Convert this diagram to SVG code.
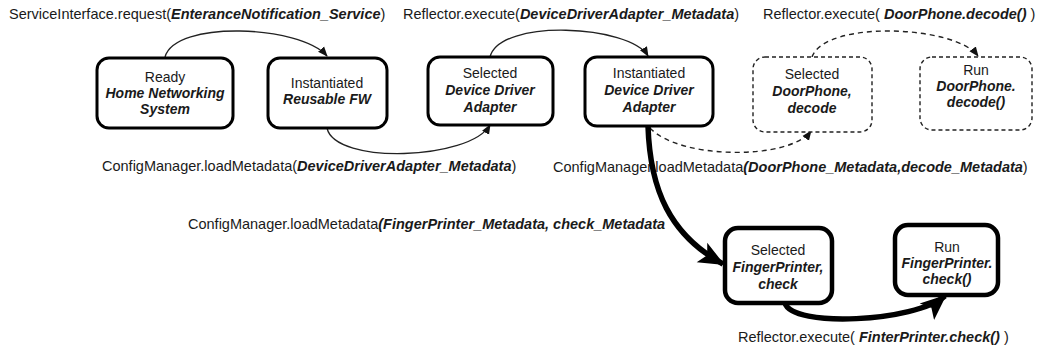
<svg xmlns="http://www.w3.org/2000/svg" width="1041" height="355" viewBox="0 0 1041 355">
<style>
text{font-family:"Liberation Sans",Arial,sans-serif;fill:#1a1a1a}
.lbl{font-size:14.5px}
.nt{font-size:14px;text-anchor:middle}
.b{font-weight:bold;font-style:italic}
.box{fill:#fff;stroke:#000;stroke-width:3}
.boxT{fill:#fff;stroke:#000;stroke-width:4.5}
.boxD{fill:#fff;stroke:#222;stroke-width:1.4;stroke-dasharray:4 3}
.thin{fill:none;stroke:#222;stroke-width:1.3}
.dash{fill:none;stroke:#222;stroke-width:1.4;stroke-dasharray:5 4}
.thick{fill:none;stroke:#000;stroke-width:5.5}
</style>
<defs>
<marker id="ah" markerWidth="10" markerHeight="10" refX="9" refY="5" orient="auto" markerUnits="userSpaceOnUse">
<path d="M0,1 L10,5 L0,9 Z" fill="#111"/>
</marker>
<marker id="ahB" markerWidth="26" markerHeight="26" refX="24" refY="13" orient="auto" markerUnits="userSpaceOnUse">
<path d="M0,2 L26,13 L0,24 L6,13 Z" fill="#000"/>
</marker>
</defs>

<g id="labels">
<text class="lbl" x="9" y="19">ServiceInterface.request(<tspan class="b">EnteranceNotification_Service</tspan>)</text>
<text class="lbl" x="403" y="19">Reflector.execute(<tspan class="b">DeviceDriverAdapter_Metadata</tspan>)</text>
<text class="lbl" x="763" y="19">Reflector.execute( <tspan class="b">DoorPhone.decode()</tspan> )</text>
<text class="lbl" x="102" y="171">ConfigManager.loadMetadata(<tspan class="b">DeviceDriverAdapter_Metadata</tspan>)</text>
<text class="lbl" x="553" y="172">ConfigManager.loadMetadata<tspan class="b">(DoorPhone_Metadata,decode_Metadata</tspan>)</text>
<text class="lbl" x="188" y="229">ConfigManager.loadMetadata<tspan class="b">(FingerPrinter_Metadata,  check_Metadata</tspan></text>
<text class="lbl" x="738" y="342">Reflector.execute( <tspan class="b">FinterPrinter.check()</tspan> )</text>
</g>

<g id="connectors">
<path class="thin" d="M165,57 C175,20 300,25 327,56" marker-end="url(#ah)"/>
<path class="thin" d="M327,128 C335,165 470,160 490,125" marker-end="url(#ah)"/>
<path class="thin" d="M490,57 C500,18 630,25 648,56" marker-end="url(#ah)"/>
<path class="dash" d="M650,128 C680,160 790,160 811,131" marker-end="url(#ah)"/>
<path class="dash" d="M812,57 C825,20 955,25 978,56" marker-end="url(#ah)"/>
</g>

<g id="n1"><rect class="box" x="97" y="58" width="136" height="70" rx="12"/>
<text class="nt" x="165" y="82">Ready</text><text class="nt b" x="165" y="98">Home Networking</text><text class="nt b" x="165" y="114">System</text></g>
<g id="n2"><rect class="box" x="268" y="58" width="119" height="70" rx="12"/>
<text class="nt" x="327" y="88">Instantiated</text><text class="nt b" x="327" y="104">Reusable FW</text></g>
<g id="n3"><rect class="box" x="428" y="57" width="125" height="68" rx="12"/>
<text class="nt" x="490" y="78">Selected</text><text class="nt b" x="490" y="95">Device Driver</text><text class="nt b" x="490" y="112">Adapter</text></g>
<g id="n4"><rect class="box" x="585" y="57" width="128" height="69" rx="12"/>
<text class="nt" x="649" y="78">Instantiated</text><text class="nt b" x="649" y="95">Device Driver</text><text class="nt b" x="649" y="112">Adapter</text></g>
<g id="n5"><rect class="boxD" x="753" y="57" width="119" height="75" rx="12"/>
<text class="nt" x="812" y="79">Selected</text><text class="nt b" x="812" y="96">DoorPhone,</text><text class="nt b" x="812" y="113">decode</text></g>
<g id="n6"><rect class="boxD" x="920" y="57" width="112" height="73" rx="12"/>
<text class="nt" x="976" y="75">Run</text><text class="nt b" x="976" y="91">DoorPhone.</text><text class="nt b" x="976" y="107">decode()</text></g>
<g id="n7"><rect class="boxT" x="725" y="228" width="107" height="75" rx="13"/>
<text class="nt" x="778" y="255">Selected</text><text class="nt b" x="778" y="272">FingerPrinter,</text><text class="nt b" x="778" y="289">check</text></g>
<g id="n8"><rect class="boxT" x="895" y="225" width="103" height="70" rx="13"/>
<text class="nt" x="947" y="252">Run</text><text class="nt b" x="947" y="268">FingerPrinter.</text><text class="nt b" x="947" y="284">check()</text></g>

<g id="thick-connectors">
<path class="thick" d="M648,126 C650,190 670,235 723,264" marker-end="url(#ahB)"/>
<path class="thick" d="M785,303 C792,328 915,322 945,296" marker-end="url(#ahB)"/>
</g>
</svg>
